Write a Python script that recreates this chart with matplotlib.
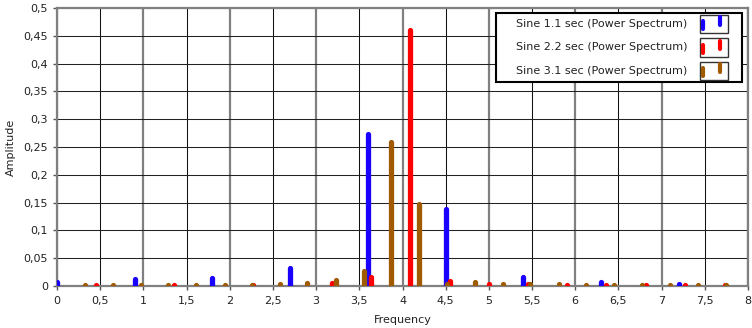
import matplotlib
matplotlib.use("Agg")
from matplotlib import pyplot as plt
from matplotlib.patches import Rectangle
from matplotlib.lines import Line2D
import numpy as np

# Sine 1.1 sec (Power Spectrum)
freq_a = [0.0, 0.9, 1.8, 2.7, 3.6, 4.5, 5.4, 6.3, 7.2]
amp_a = [0.007, 0.012, 0.015, 0.032, 0.274, 0.139, 0.016, 0.007, 0.003]

# Sine 2.2 sec (Power Spectrum)
freq_b = [0.455, 1.36, 2.27, 3.18, 3.64, 4.09, 4.55, 5.0, 5.45, 5.91, 6.36, 6.82, 7.27, 7.73]
amp_b = [0.001, 0.001, 0.002, 0.005, 0.016, 0.461, 0.009, 0.004, 0.004, 0.002, 0.002, 0.001, 0.002, 0.001]

# Sine 3.1 sec (Power Spectrum)
freq_c = [0.32, 0.65, 0.97, 1.29, 1.61, 1.94, 2.26, 2.58, 2.9, 3.23, 3.55, 3.87, 4.19,
          4.52, 4.84, 5.16, 5.48, 5.81, 6.13, 6.45, 6.77, 7.1, 7.42, 7.74]
amp_c = [0.002, 0.002, 0.002, 0.002, 0.002, 0.002, 0.002, 0.004, 0.006, 0.011, 0.027, 0.259, 0.148,
         0.004, 0.007, 0.004, 0.004, 0.003, 0.002, 0.002, 0.002, 0.002, 0.002, 0.001]

labels = ["Sine 1.1 sec (Power Spectrum)", "Sine 2.2 sec (Power Spectrum)", "Sine 3.1 sec (Power Spectrum)"]
colors = ["#1a00ff", "#ff0000", "#a05a00"]

x_ticks = np.arange(0, 8.01, 0.5)
y_ticks = np.arange(0, 0.501, 0.05)

def comma(v):
    s = f"{v:.2f}".rstrip("0").rstrip(".")
    return s.replace(".", ",")

W, H = 752, 328
fig = plt.figure(figsize=(W / 100, H / 100), dpi=100)
L, R, T, B = 57, 748, 8, 286
ax = fig.add_axes([L / W, 1 - B / H, (R - L) / W, (B - T) / H])

# grid
for x in x_ticks:
    if abs(x - round(x)) < 1e-9:
        ax.axvline(x, color="#808080", lw=1.6, zorder=1)
    else:
        ax.axvline(x, color="#111111", lw=0.75, zorder=1)
for y in y_ticks:
    ax.axhline(y, color="#222222", lw=0.75, zorder=1)

# spectra
for fr, am, c in zip([freq_a, freq_b, freq_c], [amp_a, amp_b, amp_c], colors):
    lc = ax.vlines(fr, 0, am, color=c, lw=3.8, zorder=3)
    lc.set_capstyle("round")

ax.set_xlim(0, 8)
ax.set_ylim(0, 0.5)
ax.set_xticks(x_ticks)
ax.set_xticklabels([comma(v) for v in x_ticks])
ax.set_yticks(y_ticks)
ax.set_yticklabels([comma(v) for v in y_ticks])
ax.tick_params(axis="both", labelsize=8, colors="#555555", labelcolor="#222222", length=3, width=1)
ax.tick_params(axis="x", pad=4)
ax.set_xlabel("Frequency", fontsize=8, color="#222222", labelpad=7)
ax.set_ylabel("Amplitude", fontsize=8, color="#222222", labelpad=5)
for sp in ax.spines.values():
    sp.set_color("#808080")
    sp.set_linewidth(1.6)

# legend drawn by hand
def fx(px):
    return (px - L) / (R - L)

def fy(py):
    return (B - py) / (B - T)

ax.add_patch(Rectangle((fx(496), fy(82)), fx(742) - fx(496), fy(13) - fy(82),
                       transform=ax.transAxes, facecolor="white", edgecolor="black",
                       lw=1.5, zorder=5, clip_on=False))
rows = [24, 47.5, 71]
for lab, c, ry in zip(labels, colors, rows):
    ax.text(fx(687), fy(ry), lab, transform=ax.transAxes, ha="right", va="center",
            fontsize=8, color="#222222", zorder=6)
    ax.add_patch(Rectangle((fx(700), fy(ry + 9)), fx(728) - fx(700), fy(ry - 9) - fy(ry + 9),
                           transform=ax.transAxes, facecolor="white", edgecolor="#333333",
                           lw=1.0, zorder=6, clip_on=False))
    for x0, y0, y1 in [(702.5, ry + 5, ry - 3), (719.5, ry + 1, ry - 7)]:
        ax.add_line(Line2D([fx(x0), fx(x0)], [fy(y0), fy(y1)], transform=ax.transAxes,
                           color=c, lw=3.0, solid_capstyle="round", zorder=7, clip_on=False))

fig.savefig("out.png", dpi=100, facecolor="white")
